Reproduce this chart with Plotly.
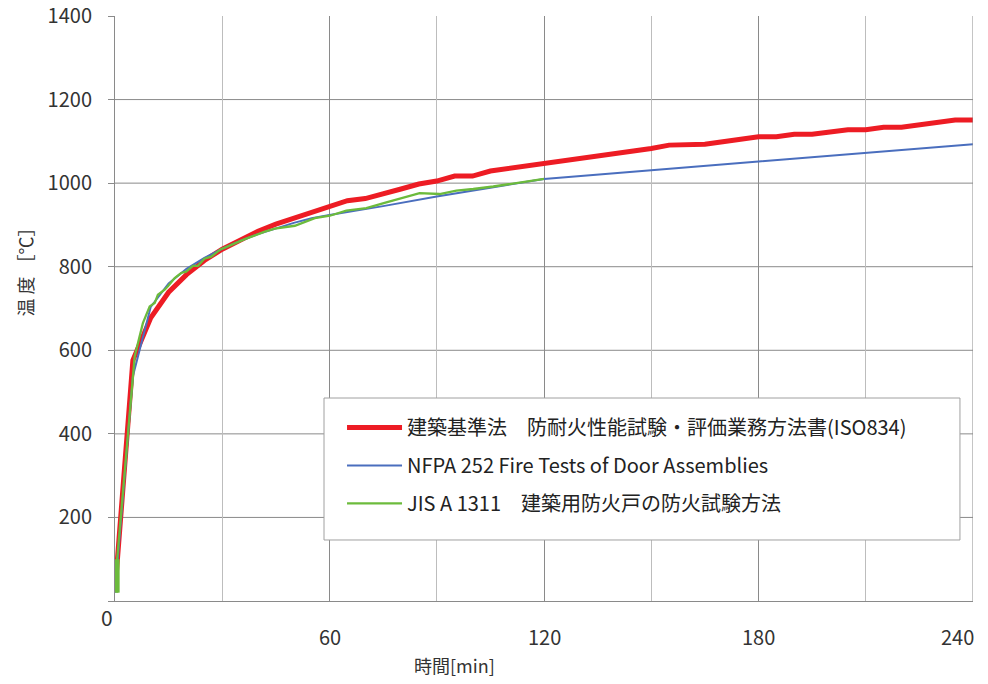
import plotly.graph_objects as go

# ---------------- data ----------------
iso_name = "建築基準法　防耐火性能試験・評価業務方法書(ISO834)"
iso_t = [0, 5, 10, 15, 20, 25, 30, 35, 40, 45, 50, 55, 60, 65, 70, 75, 80, 85, 90, 95,
         100, 105, 110, 115, 120, 125, 130, 135, 140, 145, 150, 155, 160, 165, 170, 175,
         180, 185, 190, 195, 200, 205, 210, 215, 220, 225, 230, 235, 240]
iso_v = [25, 576, 678, 739, 781, 815, 842, 865, 885, 902, 916, 928, 941, 958, 963, 973,
         986, 998, 1005, 1017, 1017, 1029, 1035, 1040, 1046, 1053, 1060, 1066, 1072, 1078,
         1083, 1091, 1093, 1093, 1099, 1106, 1111, 1111, 1117, 1117, 1122, 1128, 1128,
         1134, 1134, 1140, 1145, 1151, 1151]

nfpa_name = "NFPA 252 Fire Tests of Door Assemblies"
nfpa_t = [0, 5, 10, 15, 20, 25, 30, 35, 40, 45, 50, 55, 60, 75, 90, 105, 120, 180, 240]
nfpa_v = [20, 538, 704, 760, 795, 821, 843, 862, 878, 892, 905, 916, 924, 945, 968, 989,
          1010, 1052, 1093]

jis_name = "JIS A 1311　建築用防火戸の防火試験方法"
jis_t = [0.6, 0.6, 5.5, 7.8, 9.7, 11.1, 12.0, 13.9, 14.8, 16.7, 18.5, 19.9, 21.8, 23.2,
         25.0, 26.9, 29.6, 30.6, 36.3, 41.9, 44.7, 50.3, 55.9, 60.1, 64.7, 70.3, 75.9,
         85.2, 90.8, 95.5, 100.2, 105.8, 120]
jis_v = [20, 100, 585, 665, 705, 713, 733, 745, 753, 773, 785, 788, 802, 802, 819, 824,
         842, 845, 866, 884, 891, 898, 916, 922, 934, 940, 954, 976, 974, 982, 986, 992,
         1010]
jis_start_t = jis_t[:2]
jis_start_v = jis_v[:2]

x_tick_vals = [60, 120, 180, 240]
x_tick_text = ["60", "120", "180", "240"]
x_zero_label = "0"
y_tick_vals = [0, 200, 400, 600, 800, 1000, 1200, 1400]
y_tick_text = ["", "200", "400", "600", "800", "1000", "1200", "1400"]
y_grid_vals = [200, 400, 600, 800, 1000, 1200]

x_title = "時間[min]"
y_title = "温 度 ［℃］"

# ---------------- styling ----------------
FONT = "Noto Sans CJK JP, Noto Sans, sans-serif"
RED = "#ED1C24"
BLUE = "#4A6EBE"
GREEN = "#6CBB3C"
GRID = "#8A8A8A"
GRID_LIGHT = "#BDBDBD"
TXT = "#333333"

fig = go.Figure()
fig.add_trace(go.Scatter(x=iso_t, y=iso_v, mode="lines", name=iso_name,
                         line=dict(color=RED, width=5), legendgroup="a"))
fig.add_trace(go.Scatter(x=nfpa_t, y=nfpa_v, mode="lines", name=nfpa_name,
                         line=dict(color=BLUE, width=2), legendgroup="b"))
fig.add_trace(go.Scatter(x=jis_t, y=jis_v, mode="lines", name=jis_name,
                         line=dict(color=GREEN, width=2.3), legendgroup="c"))
fig.add_trace(go.Scatter(x=jis_start_t, y=jis_start_v, mode="lines", showlegend=False,
                         line=dict(color=GREEN, width=5), hoverinfo="skip"))

for v in y_grid_vals:
    fig.add_shape(type="line", xref="x", yref="y", x0=0, x1=240, y0=v, y1=v,
                  line=dict(color=GRID, width=1), layer="below")

# legend frame
fig.add_shape(type="rect", xref="paper", yref="paper", x0=0.2436, x1=0.9848,
              y0=0.1043, y1=0.347, fillcolor="white",
              line=dict(color="#A0A0A0", width=1), layer="above")

fig.update_layout(
    width=988, height=684,
    margin=dict(l=115, r=15, t=16, b=83, autoexpand=False),
    paper_bgcolor="white", plot_bgcolor="white",
    font=dict(family=FONT, color=TXT),
    showlegend=True,
    legend=dict(
        x=0.2646, y=0.33, xanchor="left", yanchor="top",
        bgcolor="rgba(0,0,0,0)", borderwidth=0,
        font=dict(family=FONT, size=20, color="#222222"),
        traceorder="grouped", tracegroupgap=9,
        itemwidth=55,
    ),
    xaxis=dict(
        range=[0, 240], showline=True, linecolor=GRID, linewidth=1,
        tickvals=x_tick_vals, ticktext=x_tick_text, ticks="", showticklabels=False,
        showgrid=True, gridcolor=GRID, gridwidth=1, automargin=False,
        minor=dict(dtick=30, tick0=0, showgrid=True, gridcolor=GRID_LIGHT, gridwidth=1),
        zeroline=False, mirror=False,
    ),
    yaxis=dict(
        range=[0, 1400], showline=True, linecolor=GRID, linewidth=1,
        tickvals=y_tick_vals, ticktext=y_tick_text, ticks="outside", ticklen=6,
        tickcolor=GRID, showgrid=False, zeroline=False, automargin=False,
        tickfont=dict(size=20, color=TXT), ticklabelstandoff=12,
    ),
)

# right border line at 240
fig.add_shape(type="line", xref="x", yref="y", x0=240, x1=240, y0=0, y1=1400,
              line=dict(color=GRID, width=1))

# x tick labels
for xv, xt in zip(x_tick_vals, x_tick_text):
    last = xv == x_tick_vals[-1]
    fig.add_annotation(text=xt, xref="x", yref="paper", x=xv, y=-0.06,
                       showarrow=False, font=dict(size=20, color=TXT),
                       xanchor="right" if last else "center", yanchor="middle",
                       xshift=3 if last else 0)

fig.add_annotation(text=x_zero_label, xref="paper", yref="paper", x=-0.009, y=-0.027,
                   showarrow=False, font=dict(size=21, color=TXT),
                   xanchor="center", yanchor="middle")
fig.add_annotation(text=x_title, xref="paper", yref="paper", x=0.396, y=-0.109,
                   showarrow=False, font=dict(size=18, color=TXT),
                   xanchor="center", yanchor="middle")
fig.add_annotation(text=y_title, xref="paper", yref="paper", x=-0.106, y=0.57,
                   showarrow=False, textangle=-90, font=dict(size=18, color=TXT),
                   xanchor="center", yanchor="middle")

fig.write_html("out.html", config={"displayModeBar": False},
               post_script="document.body.style.margin='0';")
